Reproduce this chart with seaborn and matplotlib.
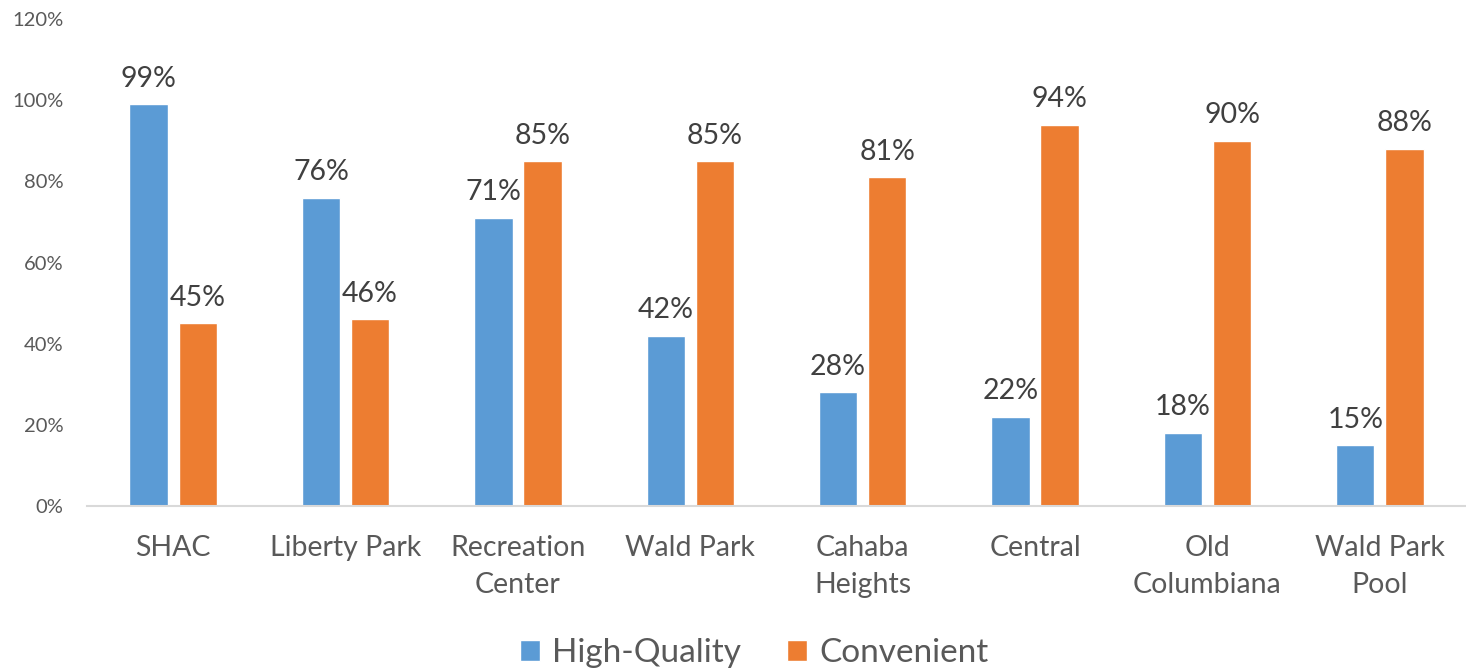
import pandas as pd
import matplotlib
matplotlib.use('Agg')
import matplotlib.pyplot as plt
import seaborn as sns
from matplotlib.patches import Patch

# Datos
lugares = ['SHAC', 'Liberty Park', 'Recreation\nCenter', 'Wald Park', 'Cahaba\nHeights',
           'Central', 'Old\nColumbiana', 'Wald Park\nPool']
high_quality = [99, 76, 71, 42, 28, 22, 18, 15]
convenient = [45, 46, 85, 85, 81, 94, 90, 88]
series = ['High-Quality', 'Convenient']
colores = ['#5B9BD5', '#ED7D31']

df = pd.DataFrame({
    'lugar': lugares * 2,
    'serie': [series[0]] * len(lugares) + [series[1]] * len(lugares),
    'valor': [v / 100 for v in high_quality + convenient],
})

sns.set_style('white')
plt.rcParams['font.family'] = ['Lato', 'DejaVu Sans']

fig = plt.figure(figsize=(14.66, 6.70), dpi=100)
ax = fig.add_axes([87 / 1466, 1 - 506 / 670, 1 - 87 / 1466, (506 - 19) / 670])

sns.barplot(data=df, x='lugar', y='valor', hue='serie', palette=colores,
            width=0.57, gap=0.22, ax=ax, legend=False, saturation=1)

for cont in ax.containers:
    ax.bar_label(cont, labels=[f'{b.get_height() * 100:.0f}%' for b in cont],
                 padding=9, fontsize=20.5, color='#404040')

ax.set_ylim(0, 1.2)
ax.set_xlim(-0.5, len(lugares) - 0.5)
ax.set_yticks([0, 0.2, 0.4, 0.6, 0.8, 1.0, 1.2])
ax.set_yticklabels(['0%', '20%', '40%', '60%', '80%', '100%', '120%'])
ax.tick_params(axis='y', labelsize=14.5, colors='#595959', length=0, pad=17)
ax.tick_params(axis='x', labelsize=20.5, colors='#595959', length=0, pad=21)
for lab in ax.get_xticklabels():
    lab.set_linespacing(1.5)
ax.set_xlabel('')
ax.set_ylabel('')

for s in ['top', 'right', 'left']:
    ax.spines[s].set_visible(False)
ax.spines['bottom'].set_color('#D9D9D9')
ax.spines['bottom'].set_linewidth(1.5)

handles = [Patch(facecolor=c, label=s) for c, s in zip(colores, series)]
fig.legend(handles=handles, loc='center', bbox_to_anchor=(754 / 1466, 1 - 653 / 670),
           ncol=2, frameon=False, fontsize=24, handlelength=0.6, handleheight=0.6,
           handletextpad=0.35, columnspacing=1.4, labelcolor='#595959')

fig.savefig('out.png', dpi=100)
